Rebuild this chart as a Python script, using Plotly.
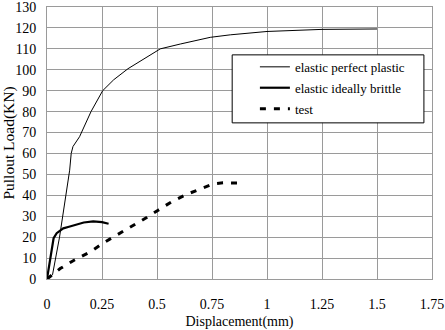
import plotly.graph_objects as go

# elastic perfect plastic (thin line)
epp_x = [0, 0.025, 0.057, 0.103, 0.11, 0.118, 0.148, 0.2, 0.253, 0.303, 0.368, 0.515, 0.606, 0.742, 0.833, 1.0, 1.25, 1.5]
epp_y = [0, 2, 20, 52, 60, 63.3, 68, 80, 90, 95.2, 100.5, 110, 112.3, 115.5, 116.7, 118.3, 119.3, 119.5]

# elastic ideally brittle (thick line)
eib_x = [0, 0.015, 0.03, 0.044, 0.074, 0.1, 0.167, 0.21, 0.25, 0.28]
eib_y = [0, 10, 19.5, 21.9, 24.2, 25, 27, 27.5, 27.2, 26.4]

# test (dashed)
test_x = [0, 0.06, 0.125, 0.197, 0.265, 0.326, 0.394, 0.455, 0.507, 0.568, 0.636, 0.705, 0.757, 0.8, 0.88]
test_y = [0, 5, 9.1, 13, 17.8, 21.5, 25.4, 29.5, 33, 37, 40.5, 43.4, 45.5, 46, 45.8]

x_ticks = [0, 0.25, 0.5, 0.75, 1, 1.25, 1.5, 1.75]
y_ticks = list(range(0, 131, 10))

FONT = "Liberation Serif"
GRID = "#9a9a9a"

fig = go.Figure()
fig.add_trace(go.Scatter(x=epp_x, y=epp_y, mode="lines", name="elastic perfect plastic",
                         line=dict(color="black", width=1), legendgroup="a"))
fig.add_trace(go.Scatter(x=eib_x, y=eib_y, mode="lines", name="elastic ideally brittle",
                         line=dict(color="black", width=2.2), legendgroup="b"))
fig.add_trace(go.Scatter(x=test_x, y=test_y, mode="lines", name="test",
                         line=dict(color="black", width=3, dash="6px,8px"), legendgroup="c"))

# legend frame
fig.add_shape(type="rect", xref="paper", yref="paper", x0=0.481, x1=0.979, y0=0.574, y1=0.824,
              line=dict(color="black", width=1), fillcolor="white", layer="above")

fig.update_layout(
    width=445, height=330,
    margin=dict(l=47, r=13, t=7, b=51),
    paper_bgcolor="white", plot_bgcolor="white",
    font=dict(family=FONT, size=13, color="black"),
    showlegend=True,
    legend=dict(x=0.54, y=0.835, xanchor="left", yanchor="top",
                bgcolor="rgba(0,0,0,0)", borderwidth=0,
                font=dict(family=FONT, size=13, color="black"),
                tracegroupgap=1),
    xaxis=dict(range=[0, 1.75], tickvals=x_ticks, ticktext=[f"{v:g}" for v in x_ticks],
               showgrid=True, gridcolor=GRID, gridwidth=1, automargin=False,
               showline=True, linecolor=GRID, mirror=True, zeroline=False,
               ticks="outside", ticklen=12, tickcolor="rgba(0,0,0,0)",
               tickfont=dict(size=14), ticklabeloverflow="allow",
               title=dict(text="Displacement(mm)", font=dict(size=14), standoff=5)),
    yaxis=dict(range=[0, 130], tickvals=y_ticks,
               showgrid=True, gridcolor=GRID, gridwidth=1, automargin=False,
               showline=True, linecolor=GRID, mirror=True, zeroline=False,
               ticks="outside", ticklen=7, tickcolor="rgba(0,0,0,0)",
               tickfont=dict(size=14), ticklabeloverflow="allow",
               title=dict(text="Pullout Load(KN)", font=dict(size=15.5), standoff=3)),
)

fig.write_html("out.html")
